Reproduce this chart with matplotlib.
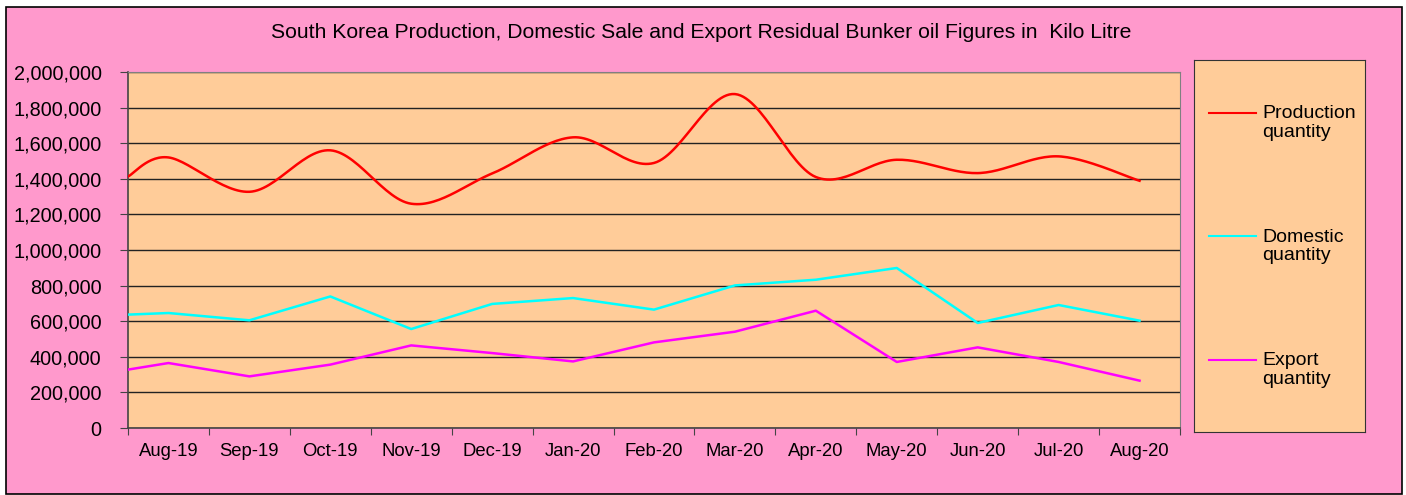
import numpy as np
import matplotlib
matplotlib.use('Agg')
import matplotlib.pyplot as plt
from matplotlib.patches import Rectangle
from matplotlib.ticker import FuncFormatter

plt.rcParams['font.family'] = ['Liberation Sans', 'DejaVu Sans']

# Данные (читаются с картинки), первая точка стоит на левой границе оси
months = ['Aug-19', 'Sep-19', 'Oct-19', 'Nov-19', 'Dec-19', 'Jan-20', 'Feb-20',
          'Mar-20', 'Apr-20', 'May-20', 'Jun-20', 'Jul-20', 'Aug-20']
production = [1413000, 1520000, 1327000, 1560000, 1260000, 1430000, 1633000,
              1489000, 1876000, 1410000, 1507000, 1432000, 1526000, 1389000]
domestic = [637000, 646000, 605000, 739000, 556000, 697000, 730000,
            665000, 801000, 833000, 899000, 590000, 691000, 603000]
export = [328000, 365000, 290000, 356000, 464000, 421000, 374000,
          481000, 541000, 659000, 371000, 453000, 371000, 266000]
series_names = ['Production\nquantity', 'Domestic\nquantity', 'Export\nquantity']
colors = ['#FF0000', '#00FFFF', '#FF00FF']

PINK = '#FF99CC'
PEACH = '#FFCC99'


# сглаживание как в Excel (кривые Безье)
def smooth(x, y, n=30):
    pts = np.column_stack([x, y]).astype(float)
    out = []
    for i in range(len(pts) - 1):
        p0 = pts[i - 1] if i > 0 else pts[i]
        p1 = pts[i]
        p2 = pts[i + 1]
        p3 = pts[i + 2] if i + 2 < len(pts) else pts[i + 1]
        c1 = p1 + (p2 - p0) / 6
        c2 = p2 - (p3 - p1) / 6
        t = np.linspace(0, 1, n)[:, None]
        seg = (1 - t) ** 3 * p1 + 3 * (1 - t) ** 2 * t * c1 + 3 * (1 - t) * t ** 2 * c2 + t ** 3 * p2
        out.append(seg if i == 0 else seg[1:])
    res = np.vstack(out)
    return res[:, 0], res[:, 1]


W, H = 1406, 495
fig = plt.figure(figsize=(W / 100, H / 100), dpi=100, facecolor='white')

# розовая подложка с рамкой
fig.patches.append(Rectangle((6 / W, 1 - 494 / H), 1396 / W, 487 / H, transform=fig.transFigure,
                             facecolor=PINK, edgecolor='black', linewidth=1.2, zorder=-10))

fig.text(701 / W, 1 - 33 / H,
         'South Korea Production, Domestic Sale and Export Residual Bunker oil Figures in  Kilo Litre',
         ha='center', va='center', fontsize=15.2)

ax = fig.add_axes([128 / W, 1 - 428 / H, 1052 / W, 356 / H])
ax.set_facecolor(PEACH)

x = np.concatenate([[-0.5], np.arange(len(months))])
xs, ys = smooth(x, production)
ax.plot(xs, ys, color=colors[0], lw=1.8, zorder=3)
ax.plot(x, domestic, color=colors[1], lw=1.8, zorder=3)
ax.plot(x, export, color=colors[2], lw=1.8, zorder=3)

ax.set_xlim(-0.5, len(months) - 0.5)
ax.set_ylim(0, 2000000)
ax.set_yticks(np.arange(0, 2000001, 200000))
ax.yaxis.set_major_formatter(FuncFormatter(lambda v, p: f'{int(v):,}'))
ax.grid(axis='y', color='#222222', lw=1)
ax.set_axisbelow(True)

ax.set_xticks(np.arange(-0.5, len(months)), labels=[''] * (len(months) + 1))
ax.set_xticks(np.arange(len(months)), labels=months, minor=True)
ax.tick_params(axis='x', which='major', length=5, color='#444444', direction='out')
ax.tick_params(axis='x', which='minor', length=0, pad=11, labelsize=13.3)
ax.tick_params(axis='y', length=6, color='#444444', pad=13, labelsize=14.3)

for s in ['top', 'right']:
    ax.spines[s].set_color('#808080')
for s in ['left', 'bottom']:
    ax.spines[s].set_color('#444444')
    ax.spines[s].set_linewidth(1.2)

# легенда
lax = fig.add_axes([1194 / W, 1 - 432 / H, 171 / W, 372 / H])
lax.set_facecolor(PEACH)
lax.set_xlim(1194, 1365)
lax.set_ylim(432, 60)
lax.set_xticks([])
lax.set_yticks([])
for s in lax.spines.values():
    s.set_color('#333333')
for i, (name, c) in enumerate(zip(series_names, colors)):
    yy = 123 + i * 123.5
    lax.plot([1209, 1256], [yy - 10, yy - 10], color=c, lw=1.5)
    lax.text(1262, yy, name, ha='left', va='center', fontsize=14, linespacing=1.1)

fig.savefig('out.png', dpi=100, facecolor='white')
